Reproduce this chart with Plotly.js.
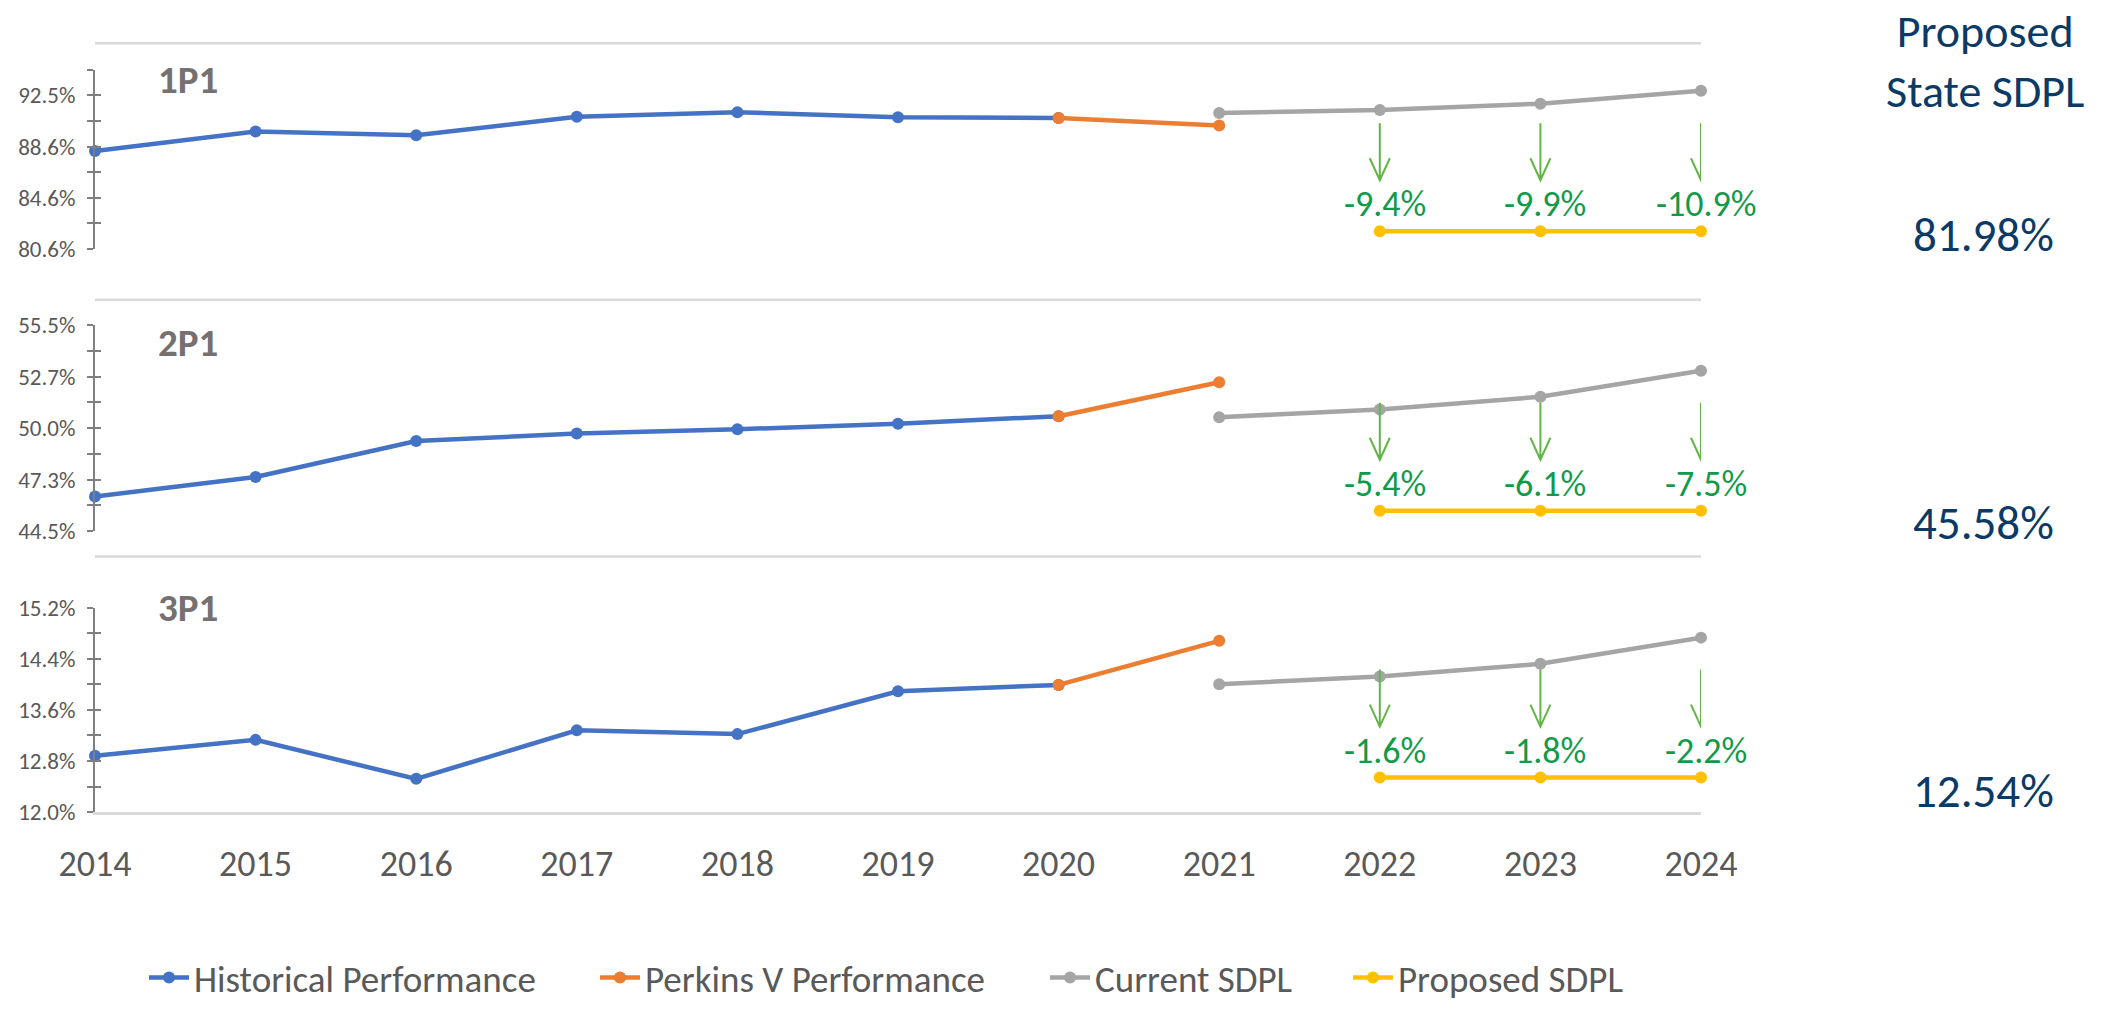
<!DOCTYPE html>
<html>
<head>
<meta charset="utf-8">
<script src="https://cdn.plot.ly/plotly-3.0.1.min.js"></script>
<style>html,body{margin:0;padding:0;background:#fff;}#chart{width:2119px;height:1009px;}</style>
</head>
<body>
<div id="chart"></div>
<script>
// ---------- data ----------
const years        = [2014, 2015, 2016, 2017, 2018, 2019, 2020, 2021, 2022, 2023, 2024];
const yearLabels   = ['2014','2015','2016','2017','2018','2019','2020','2021','2022','2023','2024'];
const histYears    = [2014, 2015, 2016, 2017, 2018, 2019, 2020];
const perkYears    = [2020, 2021];
const currYears    = [2021, 2022, 2023, 2024];
const propYears    = [2022, 2023, 2024];

const panelNames   = ['1P1', '2P1', '3P1'];

// 1P1
const hist1 = [88.22, 89.73, 89.45, 90.88, 91.24, 90.85, 90.78];
const perk1 = [90.78, 90.21];
const curr1 = [91.18, 91.40, 91.90, 92.90];
const prop1 = [81.98, 81.98, 81.98];
const gap1  = ['-9.4%', '-9.9%', '-10.9%'];
const ticks1     = [80.6, 82.59, 84.58, 86.57, 88.56, 90.55, 92.54, 94.53];
const tickText1  = ['80.6%', '', '84.6%', '', '88.6%', '', '92.5%', ''];

// 2P1
const hist2 = [46.34, 47.39, 49.31, 49.71, 49.94, 50.24, 50.64];
const perk2 = [50.64, 52.46];
const curr2 = [50.59, 51.00, 51.68, 53.07];
const prop2 = [45.58, 45.58, 45.58];
const gap2  = ['-5.4%', '-6.1%', '-7.5%'];
const ticks2     = [44.5, 45.875, 47.25, 48.625, 50.0, 51.375, 52.75, 54.125, 55.5];
const tickText2  = ['44.5%', '', '47.3%', '', '50.0%', '', '52.7%', '', '55.5%'];

// 3P1
const hist3 = [12.88, 13.13, 12.52, 13.28, 13.22, 13.89, 13.99];
const perk3 = [13.99, 14.68];
const curr3 = [14.00, 14.12, 14.32, 14.73];
const prop3 = [12.54, 12.54, 12.54];
const gap3  = ['-1.6%', '-1.8%', '-2.2%'];
const ticks3     = [12.0, 12.4, 12.8, 13.2, 13.6, 14.0, 14.4, 14.8, 15.2];
const tickText3  = ['12.0%', '', '12.8%', '', '13.6%', '', '14.4%', '', '15.2%'];

const seriesNames  = ['Historical Performance', 'Perkins V Performance', 'Current SDPL', 'Proposed SDPL'];
const headerLines  = ['Proposed', 'State SDPL'];

// ---------- styling ----------
const FONT = 'Carlito, Calibri, Lato, sans-serif';
const colors = ['#4472C4', '#ED7D31', '#A5A5A5', '#FFC000'];
const W = 2119, H = 1009;
const ML = 95, MR = 418;
const PW = W - ML - MR;
const py = px => 1 - px / H;          // pixel (from top) -> paper fraction
const pxX = px => (px - ML) / PW;     // pixel (from left) -> paper fraction

const panels = [
  {hist: hist1, perk: perk1, curr: curr1, prop: prop1, gap: gap1, ticks: ticks1, tt: tickText1, dom: [py(253.3), py(71)]},
  {hist: hist2, perk: perk2, curr: curr2, prop: prop2, gap: gap2, ticks: ticks2, tt: tickText2, dom: [py(540), py(331)]},
  {hist: hist3, perk: perk3, curr: curr3, prop: prop3, gap: gap3, ticks: ticks3, tt: tickText3, dom: [py(826), py(618)]}
];

const data = [];
const layout = {
  width: W, height: H,
  margin: {l: ML, r: MR, t: 0, b: 0},
  paper_bgcolor: '#fff', plot_bgcolor: 'rgba(0,0,0,0)',
  font: {family: FONT, color: '#595959'},
  showlegend: true,
  xaxis: {
    range: [2014, 2024], anchor: 'y3', tickmode: 'array', tickvals: years, ticktext: yearLabels,
    showgrid: false, zeroline: false, showline: true, linecolor: '#D9D9D9', linewidth: 2.5,
    ticks: '', tickfont: {family: FONT, size: 36, color: '#595959'}, ticklabelstandoff: 18
  },
  shapes: [], annotations: []
};

// one legend box per series, so each entry sits where the reference puts it
const legendCenters = [164, 615, 1065, 1368];
const legendKeys = ['legend', 'legend2', 'legend3', 'legend4'];
legendKeys.forEach((key, k) => {
  layout[key] = {
    orientation: 'h', x: pxX(legendCenters[k] - 20), xanchor: 'left', y: py(995), yanchor: 'middle',
    font: {family: FONT, size: 37, color: '#595959'}, itemwidth: 40, bgcolor: 'rgba(0,0,0,0)', borderwidth: 0
  };
});

const seps = [44, 305, 566];
seps.forEach(s => layout.shapes.push({
  type: 'line', xref: 'x', yref: 'paper', x0: 2014, x1: 2024, y0: py(s), y1: py(s),
  line: {color: '#D9D9D9', width: 2.5}, layer: 'below'
}));

const panelLabelY = [81, 348, 618];
const valueShift = [-4, -12, -13];

panels.forEach((p, i) => {
  const yName = i === 0 ? 'y' : 'y' + (i + 1);
  const yKey = i === 0 ? 'yaxis' : 'yaxis' + (i + 1);
  const ovName = 'y' + (i + 4);
  const ovKey = 'yaxis' + (i + 4);
  const rng = [p.ticks[0], p.ticks[p.ticks.length - 1]];
  layout[yKey] = {
    domain: p.dom, range: rng, anchor: 'x', tickmode: 'array', tickvals: p.ticks, ticktext: p.tt,
    showgrid: false, zeroline: false, showline: true, linecolor: '#7F7F7F', linewidth: 2,
    ticks: 'outside', ticklen: 6, tickwidth: 2, tickcolor: '#7F7F7F',
    tickfont: {family: FONT, size: 23, color: '#595959'}, ticklabelstandoff: 7
  };
  layout[ovKey] = {
    domain: p.dom, range: rng, overlaying: yName, anchor: 'x', tickmode: 'array', tickvals: p.ticks,
    showticklabels: false, showgrid: false, zeroline: false, showline: false,
    ticks: 'inside', ticklen: 6, tickwidth: 2, tickcolor: '#7F7F7F'
  };
  data.push({x: [2014], y: [null], yaxis: ovName, xaxis: 'x', mode: 'lines', showlegend: false, hoverinfo: 'skip'});

  const sets = [[histYears, p.hist], [perkYears, p.perk], [currYears, p.curr], [propYears, p.prop]];
  sets.forEach((s, k) => {
    data.push({
      x: s[0], y: s[1], xaxis: 'x', yaxis: yName, type: 'scatter', mode: 'lines+markers',
      name: seriesNames[k], legendgroup: seriesNames[k], showlegend: i === 0, legend: legendKeys[k],
      line: {color: colors[k], width: 4.5}, marker: {color: colors[k], size: 12},
      cliponaxis: false, hoverinfo: 'x+y'
    });
  });

  // green arrows and gap labels
  propYears.forEach((yr, j) => {
    layout.shapes.push({
      type: 'path', xref: 'x', yref: yName, xsizemode: 'pixel', ysizemode: 'pixel',
      xanchor: yr, yanchor: p.prop[j],
      path: 'M0,108 L0,51 M-10,73 L0,51 L10,73',
      line: {color: '#62B546', width: 2}
    });
    layout.annotations.push({
      x: yr, y: p.prop[j], xref: 'x', yref: yName, text: p.gap[j], showarrow: false,
      xanchor: 'center', yanchor: 'middle', xshift: 5, yshift: 27,
      font: {family: FONT, size: 36, color: '#119A4A'}
    });
  });

  // panel label
  layout.annotations.push({
    x: pxX(156), y: py(panelLabelY[i]), xref: 'paper', yref: 'paper',
    text: '<b>' + panelNames[i] + '</b>', showarrow: false, xanchor: 'left', yanchor: 'middle',
    font: {family: FONT, size: 39, color: '#767171'}
  });

  // proposed state value on the right
  layout.annotations.push({
    x: pxX(1983), y: p.prop[0], xref: 'paper', yref: yName,
    text: p.prop[0].toFixed(2) + '%', showarrow: false, xanchor: 'center', yanchor: 'middle',
    yshift: valueShift[i],
    font: {family: FONT, size: 47, color: '#0B3A66'}
  });
});

// header on the right (one text block, two lines)
layout.annotations.push({
  x: pxX(1985), y: 1, xref: 'paper', yref: 'paper',
  text: headerLines.join('<br>'), showarrow: false, xanchor: 'center', yanchor: 'top', yshift: -1,
  font: {family: FONT, size: 46, color: '#0B3A66'}
});

Plotly.newPlot('chart', data, layout, {displayModeBar: false, staticPlot: true});
</script>
</body>
</html>
